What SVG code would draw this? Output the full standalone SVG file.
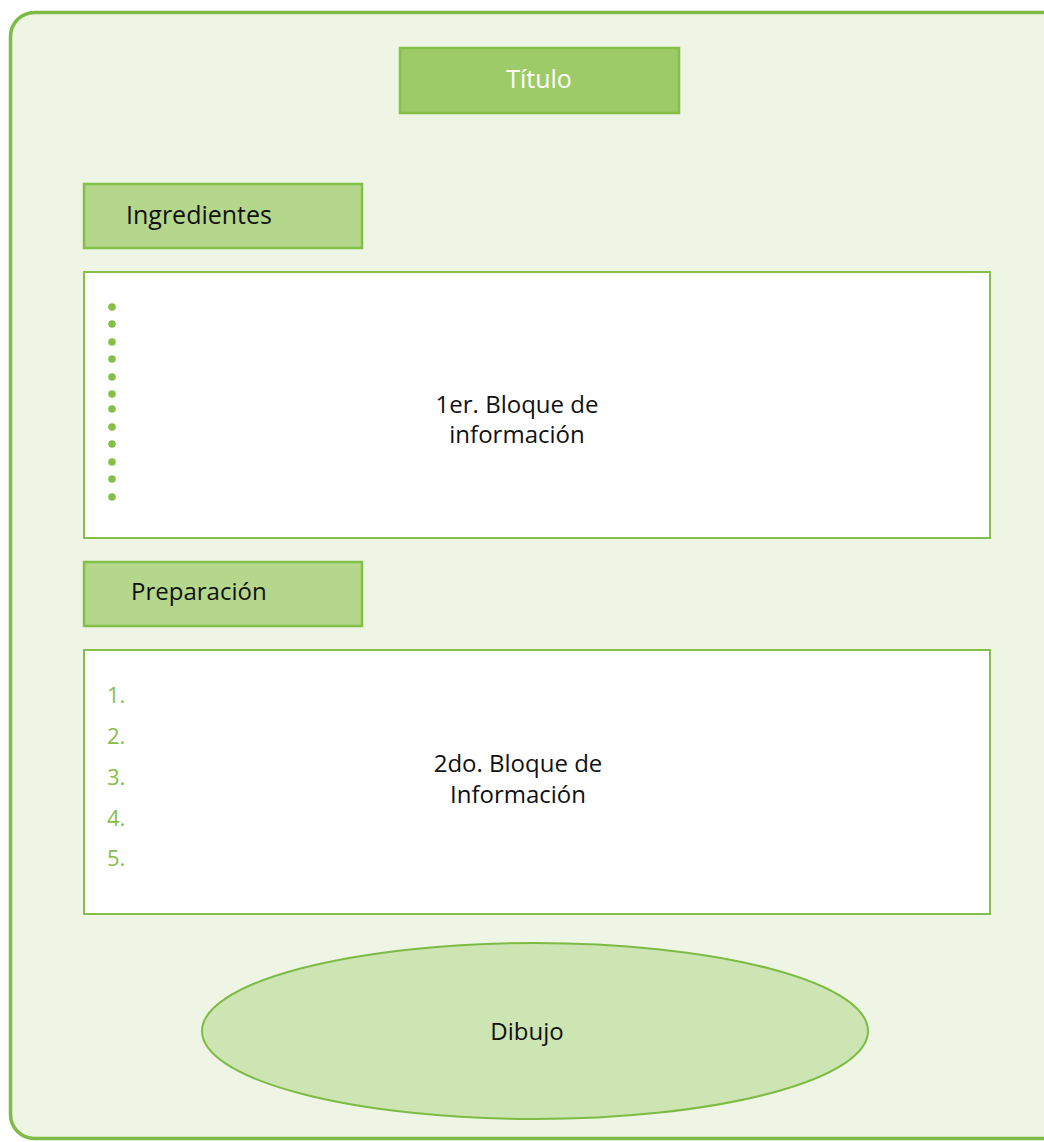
<svg xmlns="http://www.w3.org/2000/svg" width="1044" height="1142" viewBox="0 0 1044 1142">
<style>
.lbl{font-family:"Open Sans","Liberation Sans",sans-serif;font-size:24px;fill:#111;}
.hdr{fill:#b5d78c;stroke:#84bf48;stroke-width:2.5;}
.blk{fill:#ffffff;stroke:#84bf48;stroke-width:2;}
.num{font-family:"Open Sans","Liberation Sans",sans-serif;font-size:22px;fill:#84bf48;}
.dot{fill:#84bf48;}
</style>
<rect width="1044" height="1142" fill="#ffffff"/>
<g id="frame"><rect x="10.5" y="12.5" width="1060" height="1126" rx="24" fill="#eef5e4" stroke="#7dbb45" stroke-width="3.5"/></g>
<g id="titulo">
<rect x="400" y="48" width="279" height="65" fill="#9dcb68" stroke="#84bf48" stroke-width="2.5"/>
<text x="539" y="88" text-anchor="middle" class="lbl" style="fill:#ffffff;font-size:25px">Título</text>
</g>
<g id="ingredientes">
<rect class="hdr" x="84" y="184" width="278" height="64"/>
<text x="126" y="224" class="lbl" style="font-size:25px">Ingredientes</text>
</g>
<g id="bloque1">
<rect class="blk" x="84" y="272" width="906" height="266"/>
<g>
<circle class="dot" cx="112" cy="307" r="3.8"/>
<circle class="dot" cx="112" cy="324" r="3.8"/>
<circle class="dot" cx="112" cy="342" r="3.8"/>
<circle class="dot" cx="112" cy="359" r="3.8"/>
<circle class="dot" cx="112" cy="377" r="3.8"/>
<circle class="dot" cx="112" cy="394" r="3.8"/>
<circle class="dot" cx="112" cy="409" r="3.8"/>
<circle class="dot" cx="112" cy="427" r="3.8"/>
<circle class="dot" cx="112" cy="444" r="3.8"/>
<circle class="dot" cx="112" cy="462" r="3.8"/>
<circle class="dot" cx="112" cy="479" r="3.8"/>
<circle class="dot" cx="112" cy="497" r="3.8"/>
</g>
<text x="517" y="413" text-anchor="middle" class="lbl">1er. Bloque de</text>
<text x="517" y="443" text-anchor="middle" class="lbl">información</text>
</g>
<g id="preparacion">
<rect class="hdr" x="84" y="562" width="278" height="64"/>
<text x="131" y="600" class="lbl">Preparación</text>
</g>
<g id="bloque2">
<rect class="blk" x="84" y="650" width="906" height="264"/>
<text x="107" y="703" class="num">1.</text>
<text x="107" y="744" class="num">2.</text>
<text x="107" y="785" class="num">3.</text>
<text x="107" y="826" class="num">4.</text>
<text x="107" y="866" class="num">5.</text>
<text x="518" y="772" text-anchor="middle" class="lbl">2do. Bloque de</text>
<text x="518" y="803" text-anchor="middle" class="lbl">Información</text>
</g>
<g id="dibujo">
<ellipse cx="535" cy="1031" rx="333" ry="88" fill="#cde5b2" stroke="#7dbb45" stroke-width="2"/>
<text x="527" y="1040" text-anchor="middle" class="lbl">Dibujo</text>
</g>
<g id="connectors"></g>
</svg>
